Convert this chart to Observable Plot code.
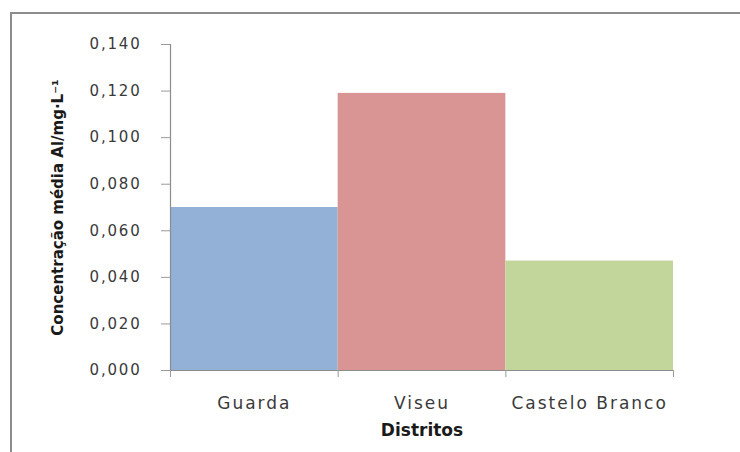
<!DOCTYPE html>
<html>
<head>
<meta charset="utf-8">
<script src="https://cdn.jsdelivr.net/npm/d3@7"></script>
<script src="https://cdn.jsdelivr.net/npm/@observablehq/plot@0.6"></script>
<style>
  html, body { margin: 0; padding: 0; background: #fff; overflow: hidden; width: 740px; height: 452px; }
  #wrap { position: relative; width: 740px; height: 452px; }
  #border { position: absolute; left: 10px; top: 12px; width: 800px; height: 600px; border: 2px solid #8c8c8c; box-sizing: border-box; }
  #chart { position: absolute; left: 0; top: 0; }
  g[aria-label="y-axis tick label"] text { letter-spacing: 1.8px; }
  g[aria-label="x-axis tick label"] text { letter-spacing: 2px; }
</style>
</head>
<body>
<div id="wrap"><div id="border"></div><div id="chart"></div></div>
<script>
const categories = ["Guarda", "Viseu", "Castelo Branco"];
const values = [0.070, 0.119, 0.047];
const barColors = ["#93b0d6", "#d89593", "#c2d69b"];
const yTicks = [0, 0.02, 0.04, 0.06, 0.08, 0.10, 0.12, 0.14];
const yTickLabels = ["0,000", "0,020", "0,040", "0,060", "0,080", "0,100", "0,120", "0,140"];
const xTitle = "Distritos";
const yTitle = "Concentração média Al/mg·L⁻¹";

const data = categories.map((c, i) => ({cat: c, i, value: values[i], color: barColors[i]}));
const bounds = d3.range(categories.length + 1);
const centers = categories.map((c, i) => i + 0.5);

const chart = Plot.plot({
  width: 740,
  height: 452,
  marginLeft: 170,
  marginRight: 67,
  marginTop: 44,
  marginBottom: 82,
  style: {fontFamily: "DejaVu Sans", fontSize: "15px", color: "#3a3a3a", background: "transparent"},
  x: {domain: [0, categories.length], axis: null},
  y: {domain: [0, 0.14], axis: null},
  color: {type: "identity"},
  marks: [
    Plot.rect(data, {x1: "i", x2: d => d.i + 1, y1: 0, y2: "value", fill: "color"}),
    Plot.ruleX([0], {stroke: "#8c8c8c", strokeWidth: 1.2}),
    Plot.ruleY([0], {stroke: "#8c8c8c", strokeWidth: 1.2}),
    Plot.axisY(yTicks, {
      tickSize: 9, tickPadding: 20, stroke: "#9a9a9a",
      tickFormat: d => yTickLabels[yTicks.indexOf(d)],
      fontSize: 15, fill: "#3a3a3a", label: null
    }),
    Plot.axisX(bounds, {tickSize: 7, stroke: "#9a9a9a", tickFormat: () => "", label: null}),
    Plot.axisX(centers, {
      tickSize: 0, tickPadding: 26,
      tickFormat: d => categories[Math.floor(d)],
      fontSize: 17, fill: "#3a3a3a", label: null
    }),
    Plot.text([xTitle], {frameAnchor: "bottom", dy: 65, fontSize: 17, fontWeight: "bold", fill: "#1a1a1a"}),
    Plot.text([yTitle], {frameAnchor: "left", textAnchor: "middle", rotate: -90, dx: -112, fontSize: 15, fontWeight: "bold", fill: "#1a1a1a"})
  ]
});
document.getElementById("chart").appendChild(chart);
</script>
</body>
</html>
